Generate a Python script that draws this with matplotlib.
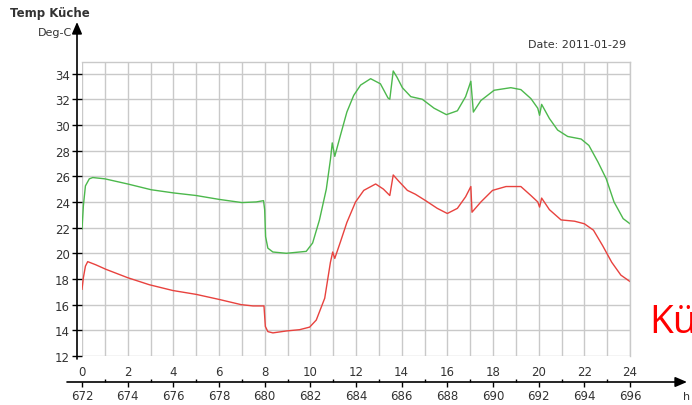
import matplotlib
matplotlib.use("Agg")
import matplotlib.pyplot as plt
from matplotlib import transforms

# hours of the day (0..24) and temperatures in Deg-C
green_h = [0.0, 0.06, 0.15, 0.32, 0.47, 1.0, 2.0, 3.03, 4.02, 5.0, 6.0, 7.0, 7.63, 7.95,
           8.0, 8.04, 8.14, 8.36, 8.95, 9.82, 10.1, 10.4, 10.7, 10.88, 10.96, 11.07,
           11.32, 11.6, 11.9, 12.2, 12.64, 13.07, 13.4, 13.48, 13.63, 13.8, 14.03, 14.4,
           14.9, 15.42, 15.96, 16.44, 16.8, 17.03, 17.14, 17.47, 18.05, 18.78, 19.22,
           19.66, 19.96, 20.04, 20.13, 20.47, 20.83, 21.27, 21.86, 22.2, 22.6, 22.96,
           23.3, 23.7, 24.0]
green_t = [21.9, 23.7, 25.25, 25.8, 25.9, 25.8, 25.4, 24.95, 24.7, 24.5, 24.2, 23.95, 24.0, 24.1,
           23.4, 21.3, 20.4, 20.1, 20.0, 20.15, 20.8, 22.6, 25.0, 27.3, 28.6, 27.55,
           29.2, 31.0, 32.3, 33.1, 33.6, 33.2, 32.1, 32.0, 34.2, 33.7, 32.9, 32.2,
           32.0, 31.3, 30.8, 31.1, 32.2, 33.4, 31.0, 31.9, 32.7, 32.9, 32.75,
           32.05, 31.3, 30.75, 31.6, 30.5, 29.6, 29.1, 28.9, 28.4, 27.1, 25.8,
           24.0, 22.7, 22.3]

red_h = [0.0, 0.06, 0.15, 0.25, 0.61, 1.05, 2.0, 2.95, 3.98, 5.0, 6.02, 6.97, 7.49, 7.97,
         8.03, 8.14, 8.36, 8.95, 9.53, 9.97, 10.26, 10.63, 10.88, 10.98, 11.07, 11.32,
         11.6, 11.98, 12.34, 12.86, 13.2, 13.48, 13.63, 13.88, 14.25, 14.6, 15.05, 15.56,
         16.0, 16.44, 16.8, 17.03, 17.08, 17.47, 17.98, 18.57, 19.22, 19.66, 19.96, 20.04,
         20.13, 20.47, 20.98, 21.57, 22.0, 22.4, 22.8, 23.2, 23.6, 24.0]
red_t = [17.2, 18.1, 19.0, 19.35, 19.1, 18.75, 18.1, 17.55, 17.1, 16.8, 16.4, 16.0, 15.9, 15.9,
         14.3, 13.9, 13.8, 13.95, 14.05, 14.25, 14.8, 16.5, 19.3, 20.1, 19.6, 20.9,
         22.4, 24.0, 24.9, 25.4, 25.0, 24.5, 26.1, 25.6, 24.9, 24.6, 24.1, 23.5,
         23.1, 23.5, 24.4, 25.2, 23.2, 24.0, 24.9, 25.2, 25.2, 24.5, 24.0, 23.6,
         24.3, 23.4, 22.6, 22.5, 22.3, 21.8, 20.6, 19.3, 18.3, 17.8]

hour_ticks = list(range(0, 25, 2))
hour_labels = [str(h) for h in hour_ticks]
abs_labels = [str(672 + h) for h in hour_ticks]
temp_ticks = list(range(12, 35, 2))

W, H = 692, 406
fig = plt.figure(figsize=(W / 100, H / 100), dpi=100)


def fx(px):
    return px / W


def fy(py):
    return 1 - py / H


ax = fig.add_axes([fx(82), fy(357), fx(630) - fx(82), fy(63) - fy(357)])
ax.set_xlim(0, 24)
ax.set_ylim(12, 34.9)

grid_c = "#c9c9c9"
ax.set_xticks(hour_ticks)
ax.set_xticks(range(1, 25, 2), minor=True)
ax.set_yticks(temp_ticks)
ax.grid(True, which="both", axis="x", color=grid_c, linewidth=1.0)
ax.grid(True, which="major", axis="y", color=grid_c, linewidth=1.0)
ax.set_axisbelow(True)

for s in ["top", "right"]:
    ax.spines[s].set_color(grid_c)
    ax.spines[s].set_linewidth(1.0)
# spine offsets are in points (px * 0.72)
ax.spines["left"].set_position(("outward", 3.6))
ax.spines["left"].set_color("none")
ax.spines["bottom"].set_position(("outward", 19))
ax.spines["bottom"].set_color("none")

tick_c = "#333333"
ax.tick_params(axis="y", direction="inout", length=7.2, width=1.0, color="black",
               labelsize=8.5, labelcolor=tick_c, pad=1.5)
ax.tick_params(axis="x", which="major", direction="out", length=3.6, width=1.0,
               color="black", labelsize=8.5, labelcolor=tick_c, pad=1)
ax.tick_params(axis="x", which="minor", direction="in", length=2.2, width=1.0, color="black")
ax.set_xticklabels(abs_labels)

# green and red temperature curves
ax.plot(green_h, green_t, color="#4cb84c", linewidth=1.0)
ax.plot(red_h, red_t, color="#e8423e", linewidth=1.0)

# hour labels above the bottom axis line
top_tr = transforms.offset_copy(ax.get_xaxis_transform(), fig=fig, y=-16, units="dots")
for h, lab in zip(hour_ticks, hour_labels):
    ax.text(h, 0, lab, transform=top_tr, ha="center", va="center",
            fontsize=8.5, color=tick_c)

# axis lines with arrows
arrow = dict(arrowstyle="-|>,head_length=0.7,head_width=0.3", color="black",
             linewidth=1.2, shrinkA=0, shrinkB=0)
fig.add_artist(plt.Annotation("", xy=(fx(77), fy(23)), xytext=(fx(77), fy(360)),
                              xycoords="figure fraction", arrowprops=arrow))
fig.add_artist(plt.Annotation("", xy=(fx(687), fy(383)), xytext=(fx(67), fy(383)),
                              xycoords="figure fraction", arrowprops=arrow))

fig.text(fx(10), fy(14), "Temp Küche", fontsize=8.5, fontweight="bold",
         color="#333333", va="center", ha="left")
fig.text(fx(72), fy(33), "Deg-C", fontsize=8, color="#333333", va="center", ha="right")
fig.text(fx(626), fy(45), "Date: 2011-01-29", fontsize=8, color="#333333",
         va="center", ha="right")
fig.text(fx(687), fy(397), "h", fontsize=8, color="#333333", va="center", ha="center")
# red label that runs off the right edge, as in the reference
fig.text(fx(649), fy(333), "Küche", fontsize=28, color="#ff0000", ha="left",
         va="baseline", family=["Open Sans", "DejaVu Sans"])

fig.savefig("out.png", dpi=100)
